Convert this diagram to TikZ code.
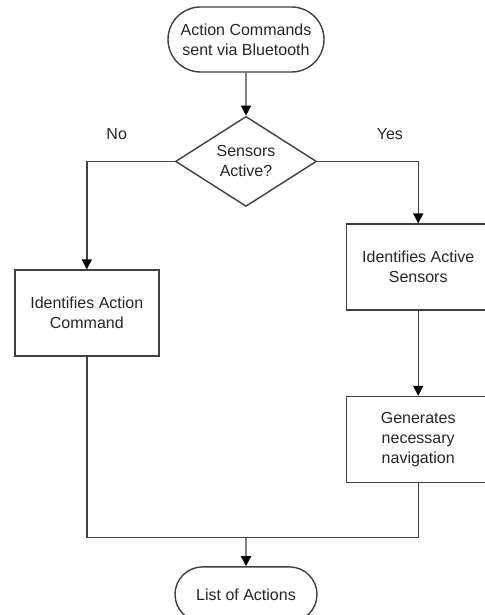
\documentclass[tikz,border=0pt]{standalone}
\usepackage{fontspec}
\setmainfont{Liberation Sans}
\usepackage{tikz}
\usetikzlibrary{positioning,arrows.meta,shapes.geometric,shapes.misc}

\begin{document}
\begin{tikzpicture}[node distance=20pt,
		every node/.style={font=\fontsize{8}{10}\selectfont, text=black!85},
		terminal/.style={draw=black!75, line width=0.7pt, rounded rectangle, align=center, inner sep=1pt},
		decision/.style={draw=black!75, line width=0.7pt, diamond, align=center, inner sep=0pt, minimum width=70.5pt, minimum height=40pt},
		process/.style={draw=black!75, line width=0.7pt, rectangle, align=center, minimum width=72pt, minimum height=43pt},
		flow/.style={draw=black!75, line width=0.7pt},
		arr/.style={flow, -{Triangle[width=5pt,length=5pt,color=black]}}]
		\useasboundingbox (0,0) rectangle (242pt,-307.5pt);
		
		\node (start)  [terminal, minimum width=80pt, minimum height=32.5pt] at (123pt,-19.75pt) {Action Commands\\sent via Bluetooth};
		\node (dec)    [decision, below=21.5pt of start] {Sensors\\Active?};
		\node (act)    [process, below=54pt of dec.west, xshift=-44pt] {Identifies Action\\Command};
		\node (sens)   [process, below=31pt of dec.east, xshift=50.5pt] {Identifies Active\\Sensors};
		\node (nav)    [process, below=42.5pt of sens] {Generates\\necessary\\navigation};
		\path (dec |- nav.south) ++(0,-27pt) coordinate (join);
		\node (finish) [terminal, minimum width=73pt, minimum height=27.5pt, below=14.5pt of join] {List of Actions};
		
		\draw[arr] (start) -- (dec);
		\draw[arr] (dec.west) -| node[pos=0.33, above=7pt] {No} (act);
		\draw[arr] (dec.east) -| node[pos=0.36, above=7pt] {Yes} (sens);
		\draw[arr] (sens) -- (nav);
		\draw[flow] (act) |- (join) -| (nav);
		\draw[arr] (join) -- (finish);
	\end{tikzpicture}
\end{document}
